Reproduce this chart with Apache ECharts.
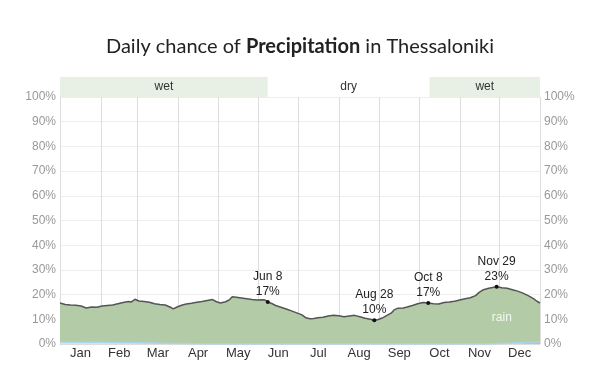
<!DOCTYPE html>
<html>
<head>
<meta charset="utf-8">
<script src="https://cdn.jsdelivr.net/npm/echarts@6/dist/echarts.min.js"></script>
<style>
  html, body { margin: 0; padding: 0; background: #fff; }
  #chart { width: 600px; height: 375px; }
</style>
</head>
<body>
<div id="chart"></div>
<script>
// day of year (0 = Jan 1) and daily chance of rain in %
var rainData = [
  [0,16.6],[4,16.0],[8,15.8],[12,15.7],[16,15.4],[20,14.6],[24,15.0],[28,14.9],
  [32,15.4],[36,15.6],[40,15.8],[44,16.3],[48,16.8],[52,17.2],[54,17.0],[57,18.1],
  [60,17.4],[64,17.2],[68,16.9],[72,16.3],[76,16.0],[80,15.8],[84,14.9],[86,14.2],
  [90,15.2],[93,15.8],[96,16.2],[100,16.5],[104,16.9],[108,17.2],[112,17.6],[116,18.0],
  [119,17.1],[122,16.6],[126,17.1],[129,18.0],[131,19.1],[134,18.9],[138,18.6],[142,18.3],
  [146,18.0],[150,17.8],[154,17.9],[156,17.8],[158,17.0],[161,16.4],[164,15.6],[168,14.9],
  [172,14.2],[176,13.4],[180,12.6],[184,11.8],[187,10.6],[190,10.2],[193,10.3],[196,10.6],
  [200,10.8],[204,11.3],[208,11.6],[212,11.4],[216,11.0],[220,11.3],[224,11.6],[228,11.0],
  [232,10.4],[236,10.0],[239,9.6],[242,9.9],[245,10.5],[248,11.4],[252,12.6],[254,13.8],
  [257,14.5],[261,14.6],[264,15.0],[268,15.6],[272,16.3],[276,16.8],[280,16.6],[284,16.3],
  [288,16.2],[292,16.8],[296,17.0],[300,17.3],[304,17.8],[308,18.3],[312,18.7],[316,19.6],
  [319,21.0],[322,22.0],[326,22.6],[329,22.9],[332,23.2],[336,22.8],[340,22.6],[344,22.0],
  [348,21.4],[352,20.6],[356,19.6],[360,18.4],[363,17.2],[365,16.6]
];
var snowData = [[0,0.8],[30,0.7],[60,0.5],[90,0.2],[110,0],[325,0],[345,0.4],[365,0.8]];

var monthNames = ['Jan','Feb','Mar','Apr','May','Jun','Jul','Aug','Sep','Oct','Nov','Dec'];
var monthStarts = [0,31,59,90,120,151,181,212,243,273,304,334,365];
var monthMids = [15.5,45,74.5,105,135.5,166,196.5,227.5,258,288.5,319,349.5];

// seasons: [start day, end day, name, shaded]
var seasons = [[0,158,'wet',1],[158,281,'dry',0],[281,365,'wet',1]];

// highlighted points: [day, value, label]
var notes = [[158,17.0,'Jun 8\n17%'],[239,9.6,'Aug 28\n10%'],[280,16.6,'Oct 8\n17%'],[332,23.2,'Nov 29\n23%']];
var rainLabelAt = [336,10.8];

var chart = echarts.init(document.getElementById('chart'));

var noteItems = notes.map(function (n) {
  return {
    coord: [n[0], n[1]],
    symbol: 'circle',
    symbolSize: 4,
    itemStyle: { color: '#111' },
    label: {
      show: true, position: 'top', distance: 1,
      formatter: n[2], color: '#222', fontSize: 12, lineHeight: 15,
      fontFamily: 'Liberation Sans'
    }
  };
});
noteItems.push({
  coord: rainLabelAt,
  symbol: 'circle',
  symbolSize: 0,
  label: {
    show: true, position: 'inside', formatter: 'rain',
    color: 'rgba(255,255,255,0.85)', fontSize: 12, fontFamily: 'Liberation Sans'
  }
});

var option = {
  animation: false,
  title: {
    text: '{a|Daily chance of }{b|Precipitation}{a| in Thessaloniki}',
    left: 'center',
    top: 32,
    textStyle: {
      rich: {
        a: { fontSize: 20, fontFamily: 'Lato', fontWeight: 'normal', color: '#222' },
        b: { fontSize: 20, fontFamily: 'Lato', fontWeight: 'bold', color: '#222' }
      }
    }
  },
  grid: [
    { left: 60, right: 60, top: 97, bottom: 31 },
    { left: 60, right: 60, top: 77, height: 20 }
  ],
  xAxis: [
    {
      type: 'value', gridIndex: 0, min: 0, max: 365,
      axisLine: { show: true, lineStyle: { color: '#ddd' } },
      axisTick: { show: false, customValues: monthStarts },
      splitLine: { show: true, lineStyle: { color: '#ddd', width: 1 } },
      axisLabel: {
        customValues: monthMids,
        formatter: function (v) { return monthNames[monthMids.indexOf(v)]; },
        color: '#333', fontSize: 13, fontFamily: 'Liberation Sans', margin: 3
      }
    },
    {
      type: 'value', gridIndex: 1, min: 0, max: 365, show: false
    }
  ],
  yAxis: [
    {
      type: 'value', gridIndex: 0, min: 0, max: 100, interval: 10,
      axisLine: { show: false }, axisTick: { show: false },
      splitLine: { lineStyle: { color: '#eee' } },
      axisLabel: { formatter: '{value}%', color: '#999', fontSize: 12, fontFamily: 'Liberation Sans', margin: 4 }
    },
    {
      type: 'value', gridIndex: 0, min: 0, max: 100, interval: 10, position: 'right',
      axisLine: { show: false }, axisTick: { show: false }, splitLine: { show: false },
      axisLabel: { formatter: '{value}%', color: '#999', fontSize: 12, fontFamily: 'Liberation Sans', margin: 4 }
    },
    { type: 'value', gridIndex: 1, min: 0, max: 1, show: false }
  ],
  series: [
    {
      name: 'rain', type: 'line', xAxisIndex: 0, yAxisIndex: 0,
      data: rainData, symbol: 'none',
      lineStyle: { color: '#555', width: 1.5 },
      areaStyle: { color: '#b3cba6', opacity: 1 },
      markPoint: { data: noteItems, silent: true }
    },
    {
      name: 'snow', type: 'line', xAxisIndex: 0, yAxisIndex: 0,
      data: snowData, symbol: 'none',
      lineStyle: { color: '#a9d3ea', width: 1.5 },
      areaStyle: { color: '#cfe6f2', opacity: 1 }
    },
    {
      type: 'custom', xAxisIndex: 1, yAxisIndex: 2,
      data: seasons,
      renderItem: function (params, api) {
        var p0 = api.coord([api.value(0), 1]);
        var p1 = api.coord([api.value(1), 0]);
        var shaded = api.value(3) === 1;
        return {
          type: 'group',
          children: [
            {
              type: 'rect',
              shape: { x: p0[0], y: p0[1], width: p1[0] - p0[0], height: p1[1] - p0[1] },
              style: { fill: shaded ? '#e8efe4' : '#ffffff' }
            },
            {
              type: 'text',
              style: {
                text: seasons[params.dataIndex][2],
                x: (p0[0] + p1[0]) / 2, y: (p0[1] + p1[1]) / 2,
                align: 'center', verticalAlign: 'middle',
                fill: '#333', fontSize: 12, fontFamily: 'Liberation Sans'
              }
            }
          ]
        };
      }
    }
  ]
};

chart.setOption(option);
</script>
</body>
</html>
